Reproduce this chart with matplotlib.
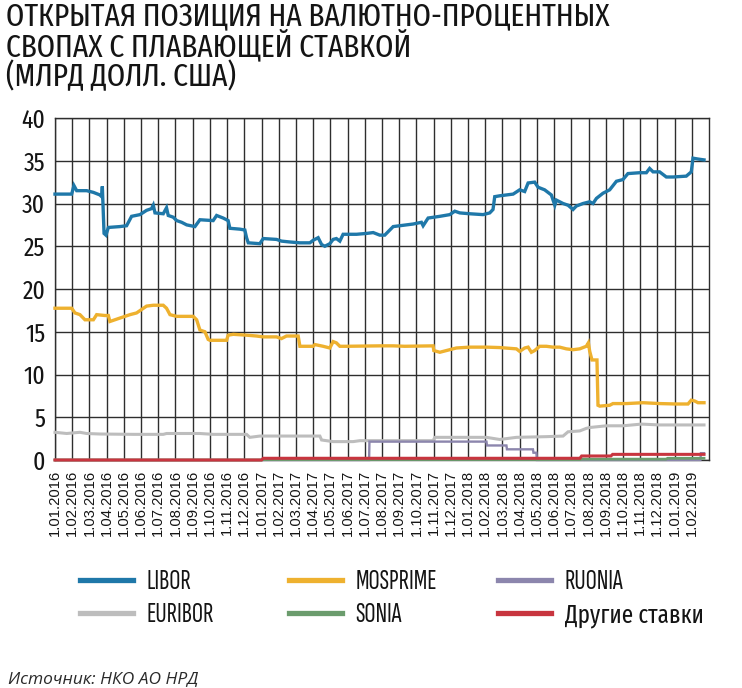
import matplotlib
matplotlib.use("Agg")
import matplotlib.pyplot as plt
from matplotlib.lines import Line2D
from matplotlib import transforms

# ---------------- data ----------------
months = ["01.2016", "02.2016", "03.2016", "04.2016", "05.2016", "06.2016", "07.2016",
          "08.2016", "09.2016", "10.2016", "11.2016", "12.2016", "01.2017", "02.2017",
          "03.2017", "04.2017", "05.2017", "06.2017", "07.2017", "08.2017", "09.2017",
          "10.2017", "11.2017", "12.2017", "01.2018", "02.2018", "03.2018", "04.2018",
          "05.2018", "06.2018", "07.2018", "08.2018", "09.2018", "10.2018", "11.2018",
          "12.2018", "01.2019", "02.2019"]
tick_labels = ["1." + m for m in months]

# time in months since 1.01.2016
libor_t = [0, 0.97, 1.10, 1.26, 1.84, 2.23, 2.61, 2.71, 2.75, 2.85,
           2.96, 3.10, 3.77, 4.16, 4.45, 4.94, 5.32, 5.61, 5.71, 5.81,
           6.29, 6.48, 6.58, 6.87, 7.07, 7.36, 7.65, 8.13, 8.42, 9.19,
           9.39, 9.77, 10.06, 10.16, 10.74, 11.03, 11.13, 11.23, 11.90, 12.10,
           12.87, 13.16, 13.64, 14.23, 14.81, 15.00, 15.29, 15.49, 15.68, 15.97,
           16.16, 16.35, 16.55, 16.74, 17.52, 18.10, 18.49, 18.87, 19.16, 19.65,
           20.42, 20.81, 21.29, 21.39, 21.68, 22.36, 22.94, 23.23, 23.52, 24.10,
           24.87, 25.26, 25.45, 25.55, 25.84, 26.62, 27.00, 27.29, 27.49, 27.87,
           28.07, 28.45, 28.84, 29.04, 29.13, 29.52, 29.81, 30.10, 30.29, 30.68,
           31.07, 31.26, 31.46, 31.84, 32.23, 32.62, 33.00, 33.29, 33.97, 34.36,
           34.55, 34.75, 35.13, 35.52, 35.91, 36.68, 36.97, 37.07, 37.36, 37.71]
libor_v = [31.1, 31.1, 32.1, 31.5, 31.5, 31.3, 31.0, 30.8, 32.0, 26.5,
           26.3, 27.2, 27.3, 27.4, 28.5, 28.7, 29.2, 29.4, 29.8, 28.9,
           28.8, 29.5, 28.6, 28.4, 28.0, 27.8, 27.5, 27.3, 28.1, 28.0,
           28.6, 28.3, 28.0, 27.1, 27.0, 26.9, 26.0, 25.4, 25.3, 25.9,
           25.8, 25.6, 25.5, 25.4, 25.4, 25.7, 26.0, 25.2, 25.0, 25.3,
           25.8, 25.9, 25.6, 26.4, 26.4, 26.5, 26.6, 26.3, 26.3, 27.3,
           27.5, 27.6, 27.8, 27.4, 28.3, 28.5, 28.7, 29.1, 28.9, 28.8,
           28.7, 28.9, 29.3, 30.8, 30.9, 31.1, 31.6, 31.4, 32.4, 32.5,
           31.9, 31.6, 31.0, 29.8, 30.4, 30.0, 29.8, 29.3, 29.7, 30.0,
           30.2, 30.0, 30.6, 31.2, 31.6, 32.6, 32.8, 33.5, 33.6, 33.6,
           34.1, 33.7, 33.7, 33.1, 33.1, 33.2, 33.7, 35.3, 35.2, 35.1]

mosprime_t = [0, 0.97, 1.16, 1.45, 1.74, 2.23, 2.42, 2.90, 3.10, 3.19,
              3.48, 3.77, 4.36, 4.74, 5.03, 5.32, 5.71, 6.29, 6.48, 6.68,
              7.07, 8.03, 8.23, 8.42, 8.71, 8.90, 9.00, 9.97, 10.06, 10.36,
              11.13, 11.71, 12.10, 12.87, 13.16, 13.45, 14.13, 14.23, 15.00, 15.10,
              15.58, 15.97, 16.16, 16.35, 16.55, 16.94, 18.87, 19.65, 20.32, 21.97,
              22.01, 22.36, 22.74, 23.32, 24.10, 25.07, 25.84, 26.81, 27.00, 27.29,
              27.49, 27.68, 27.87, 28.16, 28.55, 28.94, 29.32, 29.71, 30.10, 30.49,
              30.87, 30.99, 31.07, 31.20, 31.49, 31.55, 31.65, 32.23, 32.42, 33.20,
              34.16, 35.13, 36.10, 36.78, 36.97, 37.17, 37.36, 37.71]
mosprime_v = [17.75, 17.75, 17.2, 17.0, 16.4, 16.4, 17.0, 16.9, 16.9, 16.2,
              16.4, 16.6, 17.0, 17.2, 17.6, 18.0, 18.1, 18.1, 17.75, 17.0,
              16.8, 16.8, 16.4, 15.2, 15.0, 14.1, 14.0, 14.0, 14.6, 14.7,
              14.6, 14.5, 14.4, 14.4, 14.2, 14.5, 14.5, 13.3, 13.3, 13.5,
              13.3, 13.1, 13.85, 13.7, 13.3, 13.3, 13.35, 13.35, 13.3, 13.35,
              12.8, 12.6, 12.8, 13.1, 13.2, 13.2, 13.15, 13.0, 12.7, 13.1,
              13.2, 12.6, 12.8, 13.3, 13.3, 13.2, 13.2, 13.0, 12.9, 13.0,
              13.3, 13.7, 12.7, 11.7, 11.7, 6.4, 6.3, 6.4, 6.6, 6.6,
              6.7, 6.6, 6.55, 6.55, 7.0, 6.9, 6.7, 6.7]

euribor_t = [0, 0.68, 1.45, 1.84, 2.61, 4.55, 6.29, 6.48, 8.42, 9.19,
             11.13, 11.32, 11.90, 15.39, 15.49, 16.16, 17.32, 17.71, 21.97, 22.07,
             25.07, 25.84, 26.81, 28.55, 29.52, 29.81, 30.49, 30.87, 31.07, 32.04,
             33.00, 34.07, 35.13, 37.71]
euribor_v = [3.24, 3.1, 3.24, 3.1, 3.04, 3.0, 3.0, 3.1, 3.1, 3.0,
             3.0, 2.65, 2.8, 2.8, 2.34, 2.15, 2.15, 2.26, 2.26, 2.65,
             2.65, 2.4, 2.65, 2.73, 2.8, 3.3, 3.4, 3.7, 3.8, 4.0,
             4.0, 4.2, 4.1, 4.1]

ruonia_t = [0, 18.25, 18.27, 25.07, 25.10, 26.23, 26.26, 27.77, 27.80, 27.97,
            28.00, 37.50, 37.53, 37.71]
ruonia_v = [0, 0, 2.15, 2.15, 1.7, 1.7, 1.25, 1.25, 0.85, 0.85,
            0, 0, 0.8, 0.8]

sonia_t = [0, 12.0, 12.1, 30.5, 30.6, 35.5, 35.6, 37.71]
sonia_v = [0, 0, 0.05, 0.05, 0.1, 0.1, 0.2, 0.2]

other_t = [0, 12.0, 12.1, 30.5, 30.6, 32.3, 32.4, 37.71]
other_v = [0, 0, 0.2, 0.2, 0.47, 0.47, 0.66, 0.66]

series = [
    ("EURIBOR", euribor_t, euribor_v, "#bdbdbd", 2.2),
    ("RUONIA", ruonia_t, ruonia_v, "#8c86ad", 1.7),
    ("SONIA", sonia_t, sonia_v, "#6b9c6d", 2.0),
    ("Другие ставки", other_t, other_v, "#c8353f", 2.2),
    ("MOSPRIME", mosprime_t, mosprime_v, "#eeb12f", 2.4),
    ("LIBOR", libor_t, libor_v, "#1f78a9", 2.4),
]
legend_cols = [["LIBOR", "EURIBOR"], ["MOSPRIME", "SONIA"], ["RUONIA", "Другие ставки"]]

# ---------------- figure ----------------
W, H = 742, 688
fig = plt.figure(figsize=(W / 100, H / 100), dpi=100)
COND = ["Fira Sans Extra Condensed", "Roboto Condensed", "DejaVu Sans"]
NARROW = ["Sofia Sans Extra Condensed", "Fira Sans Extra Condensed", "DejaVu Sans"]
INK = "#141414"

ax = fig.add_axes([55 / W, 1 - 460 / H, 654 / W, 342 / H])
ax.set_xlim(0, 38)
ax.set_ylim(0, 40)

for name, t, v, c, lw in series:
    ax.plot(t, v, color=c, lw=lw, solid_joinstyle="miter", clip_on=False, zorder=3,
            label=name)

ax.set_xticks(range(len(tick_labels)))
ax.set_xticklabels(tick_labels, rotation=90, family=["Liberation Sans", "DejaVu Sans"],
                   fontsize=10.6, va="top", ha="center")
offset = transforms.ScaledTranslation(3.0 / 100, 0, fig.dpi_scale_trans)
for lab in ax.get_xticklabels():
    lab.set_transform(lab.get_transform() + offset)
ax.set_yticks(range(0, 41, 5))
ax.set_yticklabels([str(v) for v in range(0, 41, 5)], family=COND, fontsize=18.5)
ax.tick_params(axis="both", length=0, colors=INK)
ax.tick_params(axis="x", pad=7)
ax.tick_params(axis="y", pad=7)
ax.grid(True, color="#2e2e2e", lw=1.0, zorder=1)
ax.set_axisbelow(True)
for sp in ax.spines.values():
    sp.set_color("#2e2e2e")
    sp.set_linewidth(1.0)

# title (one text, three lines)
title = "ОТКРЫТАЯ ПОЗИЦИЯ НА ВАЛЮТНО-ПРОЦЕНТНЫХ\nСВОПАХ С ПЛАВАЮЩЕЙ СТАВКОЙ\n(МЛРД ДОЛЛ. США)"
fig.text(6 / W, 1 - 1.5 / H, title, family=COND, fontsize=23, linespacing=0.93,
         va="top", ha="left", color=INK)

# legend (three columns)
handles = {name: Line2D([], [], color=c, lw=3.8) for name, t, v, c, lw in series}
col_x = [80, 289, 498]
for cx, names in zip(col_x, legend_cols):
    leg = fig.legend([handles[n] for n in names], names, loc="upper left",
                     bbox_to_anchor=(cx / W, 1 - 570 / H), frameon=False,
                     prop={"family": NARROW, "size": 20},
                     handlelength=1.9, handletextpad=0.5, labelspacing=0.3,
                     borderpad=0, borderaxespad=0)
    for txt in leg.get_texts():
        txt.set_color(INK)
        if not txt.get_text().isascii():
            # Cyrillic label: standard Russian letterforms
            txt.set_fontfamily(COND)
            txt.set_fontsize(18)

fig.text(8 / W, 1 - 683 / H, "Источник: НКО АО НРД", family=["Open Sans", "DejaVu Sans"],
         style="italic", fontsize=12.5, va="baseline", ha="left", color="#2a2a2a")

fig.savefig("out.png", dpi=100)
